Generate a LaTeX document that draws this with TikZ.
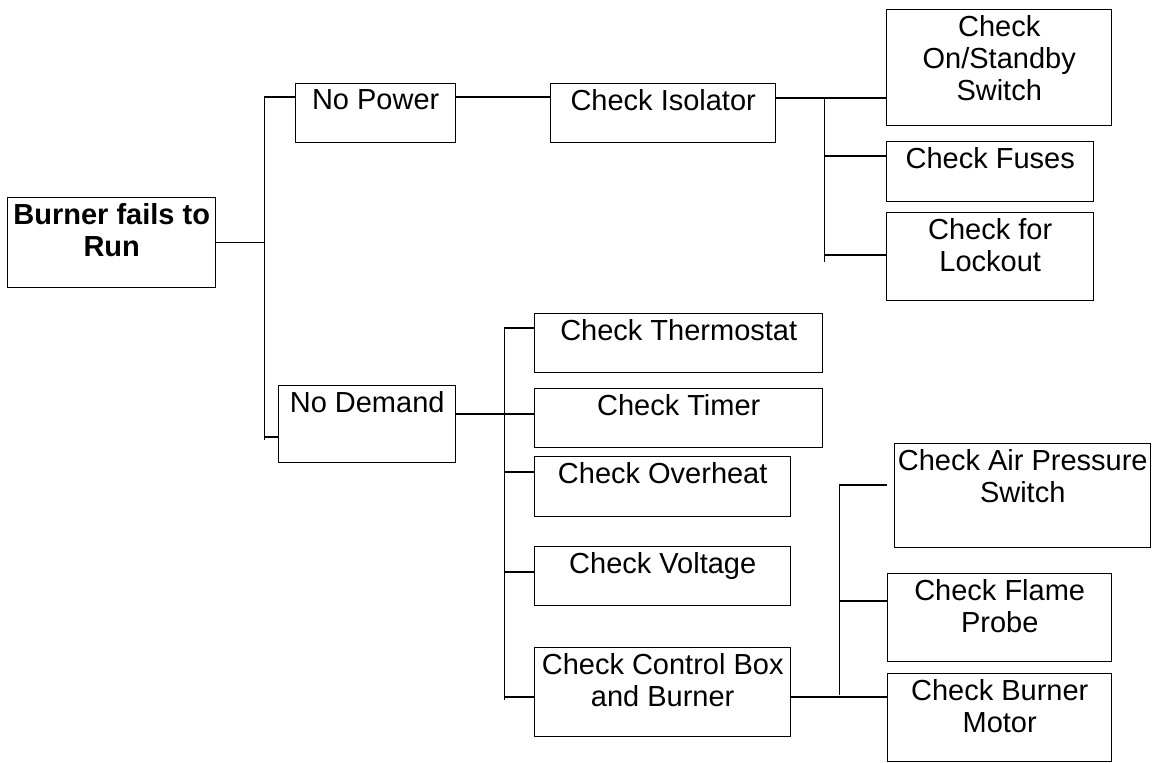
\documentclass[tikz,border=0pt]{standalone}
\usepackage{fontspec}
\setmainfont{Liberation Sans}
\usetikzlibrary{positioning}

\newcommand\boxfont{\fontsize{14.5}{16}\selectfont}

\begin{document}
\begin{tikzpicture}[
    x=0.5pt, y=-0.5pt,
    line width=0.7pt,
    box/.style={rectangle, draw, anchor=north west, inner sep=0pt},
    txt/.style={label={[anchor=north, align=center, font=\boxfont, inner sep=3pt]north:#1}},
    bold/.style={label={[anchor=north, align=center, font=\boxfont\bfseries, inner sep=3pt]north:#1}},
]
\useasboundingbox (0,0) rectangle (1155,762);

% first level
\node[box, minimum width=104pt, minimum height=45pt, bold={Burner fails to\\Run}] (burner) at (7,197) {};
\node[box, minimum width=80pt, minimum height=29.5pt, txt={No Power}] (nopower) at (295,83) {};
\node[box, minimum width=88.5pt, minimum height=38.5pt, txt={No Demand}] (nodemand) at (278,385) {};

% power branch
\node[box, minimum width=112.5pt, minimum height=29.5pt, txt={Check Isolator}] (isolator) at (550,83) {};
\node[box, minimum width=112.5pt, minimum height=58pt, txt={Check\\On/Standby\\Switch}] (standby) at (886,9) {};
\node[box, minimum width=103.5pt, minimum height=30pt, txt={Check Fuses}] (fuses) at (886,141) {};
\node[box, minimum width=103.5pt, minimum height=44pt, txt={Check for\\Lockout}] (lockout) at (886,212) {};

% demand branch
\node[box, minimum width=144pt, minimum height=29.5pt, txt={Check Thermostat}] (thermo) at (534,313) {};
\node[box, minimum width=144pt, minimum height=29.5pt, txt={Check Timer}] (timer) at (534,388) {};
\node[box, minimum width=128pt, minimum height=30pt, txt={Check Overheat}] (overheat) at (534,456) {};
\node[box, minimum width=128pt, minimum height=29.5pt, txt={Check Voltage}] (voltage) at (534,546) {};
\node[box, minimum width=128pt, minimum height=44.5pt, txt={Check Control Box\\and Burner}] (control) at (534,647) {};

% control box branch
\node[box, minimum width=128pt, minimum height=52pt, txt={Check Air Pressure\\Switch}] (airpress) at (894,443) {};
\node[box, minimum width=112pt, minimum height=44pt, txt={Check Flame\\Probe}] (flame) at (887,573) {};
\node[box, minimum width=112pt, minimum height=44pt, txt={Check Burner\\Motor}] (motor) at (887,673) {};

% tap points on the boxes
\coordinate (nopower-in) at ([yshift=-7pt]nopower.north west);
\coordinate (nopower-out) at ([yshift=-7pt]nopower.north east);
\coordinate (nodemand-in) at ([yshift=-26pt]nodemand.north west);
\coordinate (nodemand-out) at ([yshift=-14.5pt]nodemand.north east);
\coordinate (isolator-out) at ([yshift=-7.5pt]isolator.north east);
\coordinate (fuses-in) at ([yshift=-7.5pt]fuses.north west);
\coordinate (lockout-in) at ([yshift=-21.5pt]lockout.north west);
\coordinate (thermo-in) at ([yshift=-7.5pt]thermo.north west);
\coordinate (overheat-in) at ([yshift=-8pt]overheat.north west);
\coordinate (voltage-in) at ([yshift=-13pt]voltage.north west);
\coordinate (control-in) at ([yshift=-25pt]control.north west);
\coordinate (control-out) at ([yshift=-25pt]control.north east);
\coordinate (airpress-in) at ([yshift=-21pt,xshift=-3.5pt]airpress.north west);
\coordinate (flame-in) at ([yshift=-14pt]flame.north west);

% bus lines
\coordinate (bus1) at ([xshift=24pt]burner.east);
\coordinate (bus2) at ([xshift=24pt]nodemand-out);
\coordinate (bus3) at ([xshift=24pt]isolator-out);
\coordinate (bus4) at ([xshift=24pt]control-out);

\draw (burner.east) -- (bus1);
\draw (nopower-in -| bus1) -- (nodemand-in -| bus1) -- ++(0,3);
\draw (nopower-in -| bus1) -- (nopower-in);
\draw (nodemand-in -| bus1) -- (nodemand-in);

\draw (nopower-out) -- (nopower-out -| isolator.west);
\draw (isolator-out) -- (isolator-out -| standby.west);
\draw (bus3) -- (lockout-in -| bus3) -- ++(0,7);
\draw (fuses-in -| bus3) -- (fuses-in);
\draw (lockout-in -| bus3) -- (lockout-in);

\draw (nodemand-out) -- (nodemand-out -| timer.west);
\draw (thermo-in -| bus2) -- (control-in -| bus2) -- ++(0,3);
\draw (thermo-in -| bus2) -- (thermo-in);
\draw (overheat-in -| bus2) -- (overheat-in);
\draw (voltage-in -| bus2) -- (voltage-in);
\draw (control-in -| bus2) -- (control-in);

\draw (control-out) -- (control-out -| motor.west);
\draw (airpress-in -| bus4) -- ([yshift=1pt]bus4);
\draw (airpress-in -| bus4) -- (airpress-in);
\draw (flame-in -| bus4) -- (flame-in);

\end{tikzpicture}
\end{document}
